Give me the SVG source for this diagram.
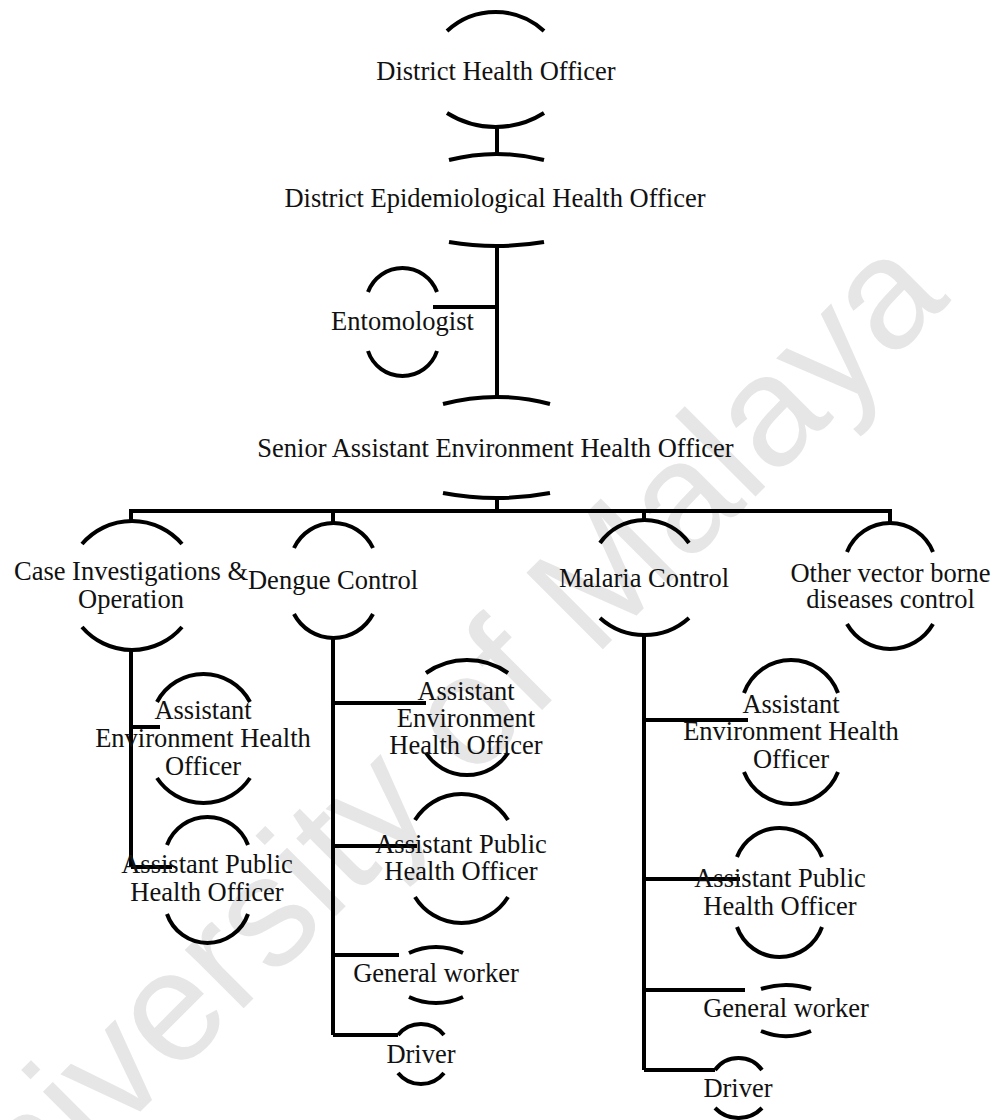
<svg xmlns="http://www.w3.org/2000/svg" width="1002" height="1120" viewBox="0 0 1002 1120">
<style>
.arc{fill:none;stroke:#000;stroke-width:4}
.ln{fill:none;stroke:#000;stroke-width:4}
text{font-family:"Liberation Serif","Times New Roman",serif;font-size:26.5px;fill:#111;text-anchor:middle}
.wm{font-family:"Liberation Sans",Arial,sans-serif;font-size:157px;fill:#e6e6e6;text-anchor:middle}
</style>
<rect width="1002" height="1120" fill="#fff"/>
<g id="watermark"><text class="wm" x="452" y="800" transform="rotate(-45 452 800)">University of Malaya</text></g>
<g id="connectors">
<path class="ln" d="M497 127V154"/>
<path class="ln" d="M497 246V397M433 307H497"/>
<path class="ln" d="M497 498V511"/>
<path class="ln" d="M129 511H892" stroke-width="5"/>
<path class="ln" d="M131 511V521M333 511V523M644 511V520M890 511V523"/>
<path class="ln" d="M131 650V867M131 727H160M131 867H172"/>
<path class="ln" d="M333 638V1035M333 703H426M333 846H417M333 955H399M333 1035H398"/>
<path class="ln" d="M644 635V1070M644 720H748M644 879H740M644 990H745M644 1070H715"/>
</g>
<g id="n-dho"><path class="arc" d="M447 31A71.4 71.4 0 0 1 544 31"/><path class="arc" d="M447 113A91 91 0 0 0 544 113"/><text x="496" y="80">District Health Officer</text></g>
<g id="n-deho"><path class="arc" d="M449 160A191 191 0 0 1 544 160"/><path class="arc" d="M449 242A284 284 0 0 0 544 242"/><text x="495" y="207">District Epidemiological Health Officer</text></g>
<g id="n-ento"><path class="arc" d="M368 292A36.8 36.8 0 0 1 437 292"/><path class="arc" d="M368 351A36.3 36.3 0 0 0 437 351"/><text x="402.5" y="330">Entomologist</text></g>
<g id="n-senior"><path class="arc" d="M443 404A208 208 0 0 1 550 404"/><path class="arc" d="M443 493A289 289 0 0 0 550 493"/><text x="495.5" y="457">Senior Assistant Environment Health Officer</text></g>
<g id="n-case"><path class="arc" d="M82 544A65.8 65.8 0 0 1 182 544"/><path class="arc" d="M82 627A65.8 65.8 0 0 0 182 627"/><text x="131" y="580">Case Investigations &amp;</text><text x="131" y="608">Operation</text></g>
<g id="n-dengue"><path class="arc" d="M294 548A43.7 43.7 0 0 1 373 548"/><path class="arc" d="M294 614A44.5 44.5 0 0 0 373 614"/><text x="333" y="589">Dengue Control</text></g>
<g id="n-malaria"><path class="arc" d="M600 543A54.5 54.5 0 0 1 689 543"/><path class="arc" d="M600 618A66.7 66.7 0 0 0 689 618"/><text x="644" y="587">Malaria Control</text></g>
<g id="n-other"><path class="arc" d="M847 552A46.4 46.4 0 0 1 933 552"/><path class="arc" d="M847 624A49.5 49.5 0 0 0 933 624"/><text x="890.5" y="582">Other vector borne</text><text x="890.5" y="608">diseases control</text></g>
<g id="n-case-aeho"><path class="arc" d="M157 702A52.6 52.6 0 0 1 250 702"/><path class="arc" d="M157 778A55.7 55.7 0 0 0 250 778"/><text x="203" y="719">Assistant</text><text x="203" y="747">Environment Health</text><text x="203" y="775">Officer</text></g>
<g id="n-case-apho"><path class="arc" d="M167 845A43.3 43.3 0 0 1 248 845"/><path class="arc" d="M167 914A42.8 42.8 0 0 0 248 914"/><text x="207" y="873">Assistant Public</text><text x="207" y="901">Health Officer</text></g>
<g id="n-dengue-aeho"><path class="arc" d="M426 673A71.2 71.2 0 0 1 508 673"/><path class="arc" d="M426 753A49.2 49.2 0 0 0 508 753"/><text x="466" y="700">Assistant</text><text x="466" y="727">Environment</text><text x="466" y="754">Health Officer</text></g>
<g id="n-dengue-apho"><path class="arc" d="M415 820A54.6 54.6 0 0 1 508 820"/><path class="arc" d="M415 897A54.6 54.6 0 0 0 508 897"/><text x="461" y="853">Assistant Public</text><text x="461" y="880">Health Officer</text></g>
<g id="n-dengue-gw"><path class="arc" d="M409 953A63.8 63.8 0 0 1 463 953"/><path class="arc" d="M409 997A63.8 63.8 0 0 0 463 997"/><text x="436" y="982">General worker</text></g>
<g id="n-dengue-driver"><path class="arc" d="M398 1035A29.5 29.5 0 0 1 444 1035"/><path class="arc" d="M398 1073A29.5 29.5 0 0 0 444 1073"/><text x="421" y="1063">Driver</text></g>
<g id="n-malaria-aeho"><path class="arc" d="M744 693A50 50 0 0 1 838 693"/><path class="arc" d="M744 772A50.5 50.5 0 0 0 838 772"/><text x="791" y="713">Assistant</text><text x="791" y="740">Environment Health</text><text x="791" y="768">Officer</text></g>
<g id="n-malaria-apho"><path class="arc" d="M737 857A45.6 45.6 0 0 1 822 857"/><path class="arc" d="M737 927A45.1 45.1 0 0 0 822 927"/><text x="780" y="887">Assistant Public</text><text x="780" y="915">Health Officer</text></g>
<g id="n-malaria-gw"><path class="arc" d="M761 989A80 80 0 0 1 811 989"/><path class="arc" d="M761 1031A65 65 0 0 0 811 1031"/><text x="786" y="1017">General worker</text></g>
<g id="n-malaria-driver"><path class="arc" d="M715 1070A29 29 0 0 1 762 1070"/><path class="arc" d="M715 1108A32.6 32.6 0 0 0 762 1108"/><text x="738" y="1097">Driver</text></g>
</svg>
